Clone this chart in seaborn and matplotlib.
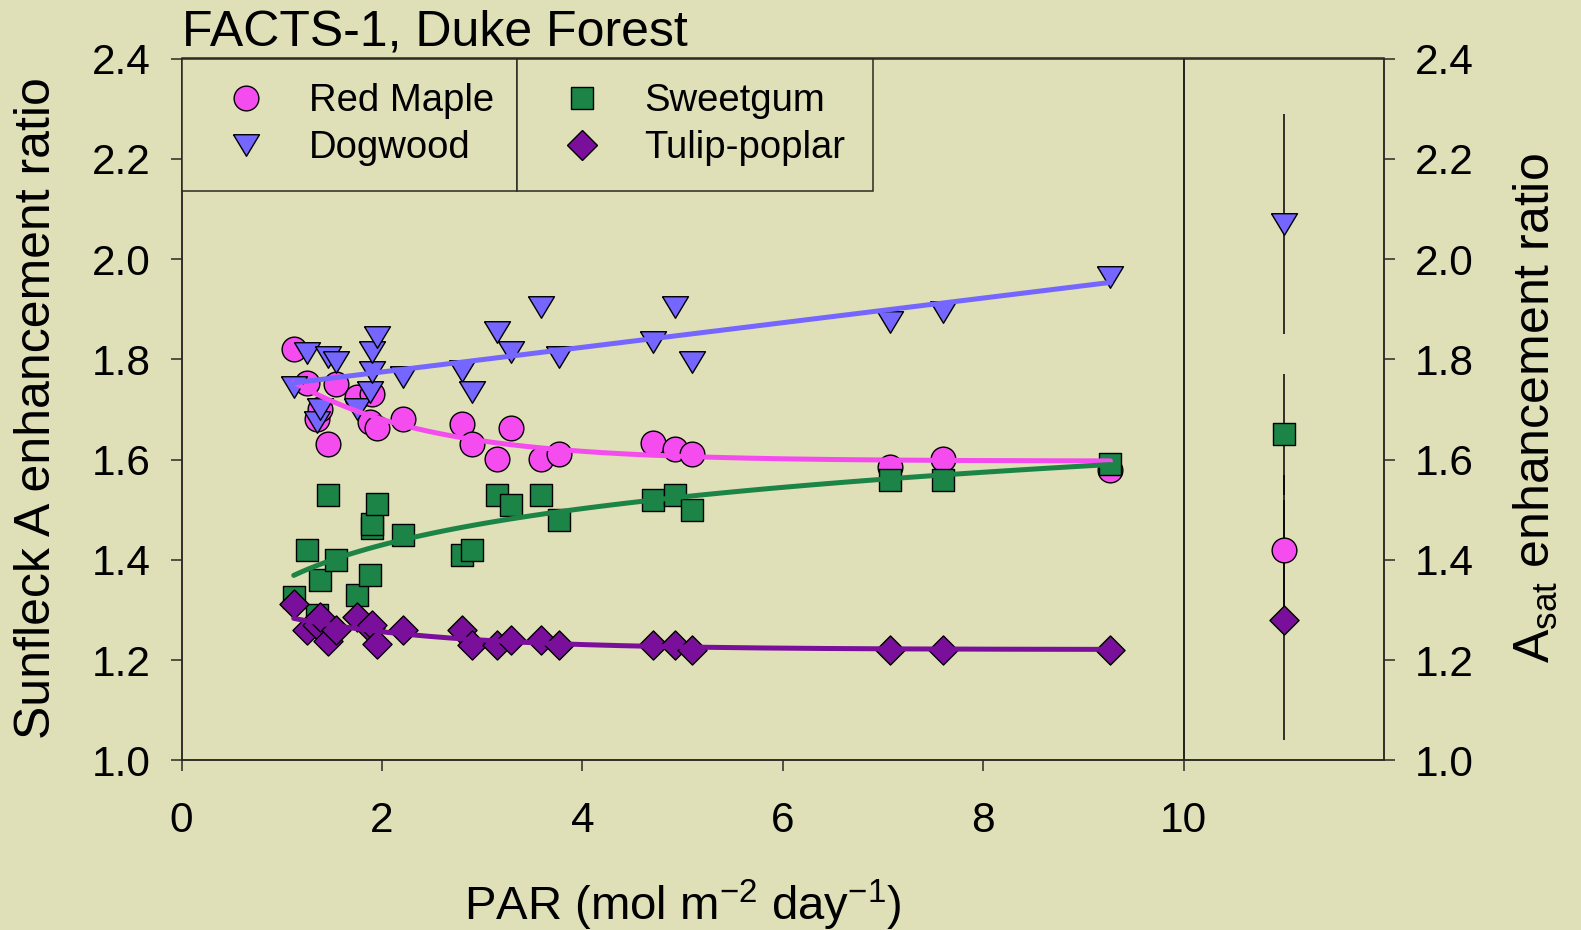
import numpy as np
import pandas as pd
import matplotlib
matplotlib.use("Agg")
import matplotlib.pyplot as plt
from matplotlib.lines import Line2D
import seaborn as sns

# ---------------- data ----------------
maple_par = [1.12, 1.25, 1.35, 1.38, 1.465, 1.54, 1.75, 1.88, 1.90, 1.95, 2.21,
             2.80, 2.90, 3.145, 3.29, 3.59, 3.77, 4.71, 4.92, 5.09, 7.07, 7.60, 9.27]
maple_ratio = [1.82, 1.752, 1.68, 1.70, 1.63, 1.75, 1.725, 1.675, 1.73, 1.662, 1.68,
               1.671, 1.631, 1.601, 1.662, 1.601, 1.611, 1.632, 1.622, 1.611, 1.586, 1.602, 1.579]

dogwood_par = [1.12, 1.25, 1.35, 1.38, 1.465, 1.54, 1.75, 1.88, 1.90, 1.90, 1.95, 2.21,
               2.80, 2.90, 3.145, 3.29, 3.59, 3.77, 4.71, 4.92, 5.09, 7.07, 7.60, 9.27]
dogwood_ratio = [1.745, 1.813, 1.675, 1.70, 1.804, 1.794, 1.70, 1.735, 1.775, 1.814, 1.844, 1.765,
                 1.777, 1.735, 1.855, 1.815, 1.905, 1.805, 1.835, 1.905, 1.795, 1.875, 1.895, 1.965]

sweetgum_par = [1.12, 1.25, 1.35, 1.38, 1.465, 1.54, 1.75, 1.88, 1.90, 1.90, 1.95, 2.21,
                2.80, 2.90, 3.145, 3.29, 3.59, 3.77, 4.71, 4.92, 5.09, 7.07, 7.60, 9.27]
sweetgum_ratio = [1.326, 1.42, 1.29, 1.36, 1.529, 1.40, 1.33, 1.37, 1.463, 1.471, 1.511, 1.449,
                  1.41, 1.42, 1.529, 1.509, 1.529, 1.479, 1.519, 1.529, 1.499, 1.559, 1.559, 1.591]

tulip_par = [1.12, 1.25, 1.35, 1.38, 1.465, 1.54, 1.75, 1.88, 1.90, 1.95, 2.21,
             2.80, 2.90, 3.145, 3.29, 3.59, 3.77, 4.71, 4.92, 5.09, 7.07, 7.60, 9.27]
tulip_ratio = [1.311, 1.26, 1.27, 1.286, 1.237, 1.26, 1.286, 1.263, 1.27, 1.233, 1.26,
               1.26, 1.23, 1.23, 1.24, 1.24, 1.23, 1.23, 1.23, 1.22, 1.221, 1.221, 1.221]

# Asat enhancement ratios (right panel), mean and error
asat_species = ["Red Maple", "Dogwood", "Sweetgum", "Tulip-poplar"]
asat_mean = [1.42, 2.07, 1.65, 1.28]
asat_err = [0.15, 0.22, 0.12, 0.24]
asat_pos = 11

x_ticks = [0, 2, 4, 6, 8, 10]
y_ticks = [1.0, 1.2, 1.4, 1.6, 1.8, 2.0, 2.2, 2.4]

# ---------------- style ----------------
BG = "#DFDFB8"
C_MAPLE = "#F54CF0"
C_DOG = "#7566FF"
C_SWEET = "#1C8446"
C_TULIP = "#7A0F9C"
SPINE = "#2a2a22"

sns.set_theme(style="ticks")
plt.rcParams["font.family"] = ["Liberation Sans", "DejaVu Sans"]
plt.rcParams["mathtext.fontset"] = "custom"
plt.rcParams["mathtext.rm"] = "Liberation Sans"
plt.rcParams["mathtext.it"] = "Liberation Sans:italic"
plt.rcParams["mathtext.default"] = "regular"
plt.rcParams["text.color"] = "black"
plt.rcParams["axes.labelcolor"] = "black"

fig = plt.figure(figsize=(15.81, 9.30), dpi=100, facecolor=BG)
L, R = 181.5 / 1581, 1384 / 1581
T, B = 1 - 58.5 / 930, 1 - 760.3 / 930
ax = fig.add_axes([L, B, R - L, T - B])
ax.set_facecolor(BG)

tri_verts = np.array([[-1, 0.83], [1, 0.83], [0, -0.83], [-1, 0.83]])

MK = {
    "Red Maple": dict(marker="o", s=17.8 ** 2, color=C_MAPLE),
    "Dogwood": dict(marker=tri_verts, s=18.7 ** 2, color=C_DOG),
    "Sweetgum": dict(marker="s", s=16.3 ** 2, color=C_SWEET),
    "Tulip-poplar": dict(marker="D", s=14.8 ** 2, color=C_TULIP),
}

series = [
    ("Red Maple", maple_par, maple_ratio),
    ("Dogwood", dogwood_par, dogwood_ratio),
    ("Sweetgum", sweetgum_par, sweetgum_ratio),
    ("Tulip-poplar", tulip_par, tulip_ratio),
]

for i, (name, xs, ys) in enumerate(series):
    sns.scatterplot(x=xs, y=ys, ax=ax, edgecolor="black", linewidth=1.0,
                    legend=False, zorder=3 + i * 0.1, **MK[name])


def fit_decay(x, y):
    x = np.asarray(x, float)
    y = np.asarray(y, float)
    best = None
    for b in np.linspace(0.05, 3.0, 600):
        A = np.column_stack([np.ones_like(x), np.exp(-b * x)])
        coef, *_ = np.linalg.lstsq(A, y, rcond=None)
        sse = float(np.sum((A @ coef - y) ** 2))
        if best is None or sse < best[0]:
            best = (sse, b, coef)
    _, b, (c, a) = best
    grid = np.linspace(x.min(), x.max(), 200)
    return grid, c + a * np.exp(-b * grid)


LW = 3.6
# Red maple: exponential decay fit
gx, gy = fit_decay(maple_par, maple_ratio)
sns.lineplot(x=gx, y=gy, ax=ax, color=C_MAPLE, lw=LW, zorder=5)
# Dogwood: linear fit
sns.regplot(x=np.array(dogwood_par), y=np.array(dogwood_ratio), ax=ax, scatter=False,
            ci=None, color=C_DOG, line_kws=dict(lw=LW, zorder=5))
# Sweetgum: logarithmic fit
sns.regplot(x=np.array(sweetgum_par), y=np.array(sweetgum_ratio), ax=ax, scatter=False,
            ci=None, logx=True, color=C_SWEET, line_kws=dict(lw=LW, zorder=5))
# Tulip-poplar: exponential decay fit
gx, gy = fit_decay(tulip_par, tulip_ratio)
sns.lineplot(x=gx, y=gy, ax=ax, color=C_TULIP, lw=LW, zorder=5)

# right panel: Asat ratios with error bars
ax.errorbar([asat_pos] * len(asat_mean), asat_mean, yerr=asat_err, fmt="none",
            ecolor="black", elinewidth=1.1, capsize=0, zorder=2)
for i, name in enumerate(asat_species):
    sns.scatterplot(x=[asat_pos], y=[asat_mean[i]], ax=ax, edgecolor="black",
                    linewidth=1.0, legend=False, zorder=4, **MK[name])

ax.axvline(10, color="black", lw=1.2, zorder=1)

ax.set_xlim(0, 12)
ax.set_ylim(1.0, 2.4)
ax.set_xticks(x_ticks)
ax.set_xticklabels([str(t) for t in x_ticks])
ax.set_yticks(y_ticks)
ax.set_yticklabels([f"{t:.1f}" for t in y_ticks])
ax.set_xlabel("")
ax.set_ylabel("")
for sp in ax.spines.values():
    sp.set_visible(True)
    sp.set_color(SPINE)
    sp.set_linewidth(1.1)
ax.tick_params(axis="both", direction="out", length=8, width=1.1, color=SPINE,
               labelsize=30.5, labelcolor="black")
ax.tick_params(axis="y", pad=14)
ax.tick_params(axis="x", pad=21)

ax2 = ax.twinx()
ax2.set_ylim(1.0, 2.4)
ax2.set_yticks(y_ticks)
ax2.set_yticklabels([f"{t:.1f}" for t in y_ticks])
ax2.tick_params(axis="y", direction="out", length=8, width=1.1, color=SPINE,
                labelsize=30.5, pad=14, labelcolor="black")
for sp in ax2.spines.values():
    sp.set_color(SPINE)
    sp.set_linewidth(1.1)

# legends (two framed columns)
FS_LEG = 27.5


def handle(name):
    d = MK[name]
    ms = np.sqrt(d["s"])
    return Line2D([], [], ls="", marker=d["marker"], markersize=ms,
                  markerfacecolor=d["color"], markeredgecolor="black", markeredgewidth=1.0)


leg_kw = dict(loc="upper left", mode="expand", borderaxespad=0, fontsize=FS_LEG,
              frameon=True, fancybox=False, borderpad=0.64, labelspacing=0.3,
              handlelength=2.1, handletextpad=0.6, framealpha=1, labelcolor="black")
x_div = (517 - 181.5) / (1384 - 181.5)
x_end = (872.8 - 181.5) / (1384 - 181.5)
leg1 = ax2.legend([handle("Red Maple"), handle("Dogwood")], ["Red Maple", "Dogwood"],
                  bbox_to_anchor=(0, 0, x_div, 1), **leg_kw)
leg1.get_frame().set_edgecolor(SPINE)
leg1.get_frame().set_linewidth(1.1)
leg1.get_frame().set_facecolor(BG)
ax2.add_artist(leg1)
leg2 = ax2.legend([handle("Sweetgum"), handle("Tulip-poplar")], ["Sweetgum", "Tulip-poplar"],
                  bbox_to_anchor=(x_div, 0, x_end - x_div, 1), **leg_kw)
leg2.get_frame().set_edgecolor(SPINE)
leg2.get_frame().set_linewidth(1.1)
leg2.get_frame().set_facecolor(BG)

# texts
fig.text(182 / 1581, 1 - 45 / 930, "FACTS-1, Duke Forest", ha="left", va="baseline",
         fontsize=36, color="black")
fig.text(37 / 1581, 1 - 408 / 930, "Sunfleck A enhancement ratio", rotation=90,
         ha="center", va="center", fontsize=36, color="black")
fig.text(1536 / 1581, 1 - 408 / 930, r"A$_{\rm sat}$ enhancement ratio", rotation=90,
         ha="center", va="center", fontsize=36, color="black")
fig.text(683 / 1581, 1 - 920 / 930, r"PAR (mol m$^{-2}$ day$^{-1}$)", ha="center",
         va="baseline", fontsize=34, color="black")

fig.savefig("out.png", dpi=100, facecolor=BG)
